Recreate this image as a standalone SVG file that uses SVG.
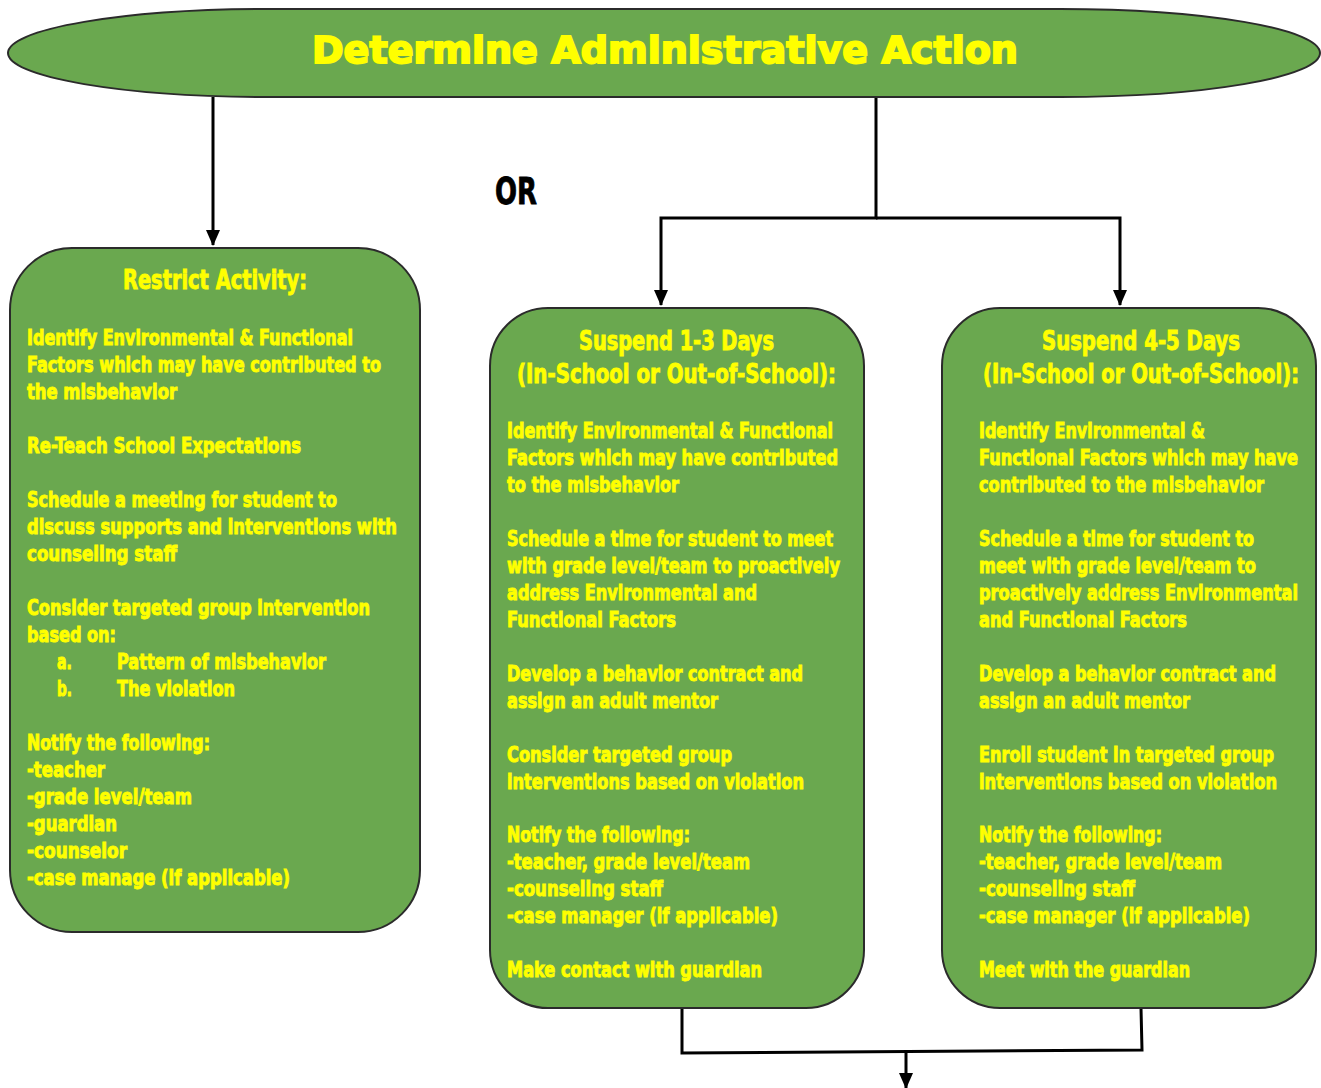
<svg xmlns="http://www.w3.org/2000/svg" width="1321" height="1088" viewBox="0 0 1321 1088">
<defs>
<marker id="ah" markerWidth="16" markerHeight="14" refX="15" refY="7" orient="auto" markerUnits="userSpaceOnUse"><path d="M0,0 L16,7 L0,14 Z" fill="#000"/></marker>
<style>
.box{fill:#6aa84f;stroke:#2b2b2b;stroke-width:2}
.t{font-family:"Liberation Sans Narrow","DejaVu Sans Condensed","DejaVu Sans",sans-serif;font-weight:bold;fill:#ffff00;stroke:#ffff00;stroke-width:0.9;font-size:21px}
.h{font-size:26px}
.ttl{font-family:"DejaVu Sans",sans-serif;font-weight:bold;fill:#ffff00;stroke:#ffff00;stroke-width:2;font-size:38px}
.or{font-family:"Liberation Sans Narrow","DejaVu Sans Condensed","DejaVu Sans",sans-serif;font-weight:bold;fill:#000;stroke:#000;stroke-width:0.8;font-size:38px}
.c{fill:none;stroke:#000;stroke-width:3}
</style>
</defs>
<g id="connectors">
<line class="c" x1="213" y1="97" x2="213" y2="245" marker-end="url(#ah)"/>
<polyline class="c" points="876,97 876,218 661,218 661,305" marker-end="url(#ah)"/>
<polyline class="c" points="876,218 1120,218 1120,305" marker-end="url(#ah)"/>
<polyline class="c" points="682,1008 682,1053 1142,1050 1141,1008"/>
<line class="c" x1="906" y1="1052" x2="906" y2="1088" marker-end="url(#ah)"/>
</g>
<g id="title">
<rect class="box" x="8" y="9" width="1312" height="88" rx="260" ry="44"/>
<text class="ttl" x="312" y="63" textLength="706" lengthAdjust="spacingAndGlyphs">Determine Administrative Action</text>
</g>
<g id="or-label">
<text class="or" x="495" y="204" textLength="42" lengthAdjust="spacingAndGlyphs">OR</text>
</g>
<g id="restrict">
<rect class="box" x="10" y="248" width="410" height="684" rx="62"/>
<text class="t h" x="123" y="289" textLength="184" lengthAdjust="spacingAndGlyphs">Restrict Activity:</text>
<text class="t" x="27" y="345" textLength="326" lengthAdjust="spacingAndGlyphs">Identify Environmental &amp; Functional</text>
<text class="t" x="27" y="372" textLength="354" lengthAdjust="spacingAndGlyphs">Factors which may have contributed to</text>
<text class="t" x="27" y="399" textLength="150" lengthAdjust="spacingAndGlyphs">the misbehavior</text>
<text class="t" x="27" y="453" textLength="274" lengthAdjust="spacingAndGlyphs">Re-Teach School Expectations</text>
<text class="t" x="27" y="507" textLength="310" lengthAdjust="spacingAndGlyphs">Schedule a meeting for student to</text>
<text class="t" x="27" y="534" textLength="370" lengthAdjust="spacingAndGlyphs">discuss supports and interventions with</text>
<text class="t" x="27" y="561" textLength="150" lengthAdjust="spacingAndGlyphs">counseling staff</text>
<text class="t" x="27" y="615" textLength="343" lengthAdjust="spacingAndGlyphs">Consider targeted group intervention</text>
<text class="t" x="27" y="642" textLength="89" lengthAdjust="spacingAndGlyphs">based on:</text>
<text class="t" x="57" y="669" textLength="15" lengthAdjust="spacingAndGlyphs">a.</text>
<text class="t" x="117" y="669" textLength="209" lengthAdjust="spacingAndGlyphs">Pattern of misbehavior</text>
<text class="t" x="57" y="696" textLength="15" lengthAdjust="spacingAndGlyphs">b.</text>
<text class="t" x="117" y="696" textLength="118" lengthAdjust="spacingAndGlyphs">The violation</text>
<text class="t" x="27" y="750" textLength="183" lengthAdjust="spacingAndGlyphs">Notify the following:</text>
<text class="t" x="27" y="777" textLength="78" lengthAdjust="spacingAndGlyphs">-teacher</text>
<text class="t" x="27" y="804" textLength="165" lengthAdjust="spacingAndGlyphs">-grade level/team</text>
<text class="t" x="27" y="831" textLength="90" lengthAdjust="spacingAndGlyphs">-guardian</text>
<text class="t" x="27" y="858" textLength="100" lengthAdjust="spacingAndGlyphs">-counselor</text>
<text class="t" x="27" y="885" textLength="263" lengthAdjust="spacingAndGlyphs">-case manage (if applicable)</text>
</g>
<g id="suspend13">
<rect class="box" x="490" y="308" width="374" height="700" rx="58"/>
<text class="t h" x="579" y="350" textLength="195" lengthAdjust="spacingAndGlyphs">Suspend 1-3 Days</text>
<text class="t h" x="517" y="383" textLength="319" lengthAdjust="spacingAndGlyphs">(In-School or Out-of-School):</text>
<text class="t" x="507" y="438" textLength="326" lengthAdjust="spacingAndGlyphs">Identify Environmental &amp; Functional</text>
<text class="t" x="507" y="465" textLength="331" lengthAdjust="spacingAndGlyphs">Factors which may have contributed</text>
<text class="t" x="507" y="492" textLength="172" lengthAdjust="spacingAndGlyphs">to the misbehavior</text>
<text class="t" x="507" y="546" textLength="326" lengthAdjust="spacingAndGlyphs">Schedule a time for student to meet</text>
<text class="t" x="507" y="573" textLength="333" lengthAdjust="spacingAndGlyphs">with grade level/team to proactively</text>
<text class="t" x="507" y="600" textLength="250" lengthAdjust="spacingAndGlyphs">address Environmental and</text>
<text class="t" x="507" y="627" textLength="169" lengthAdjust="spacingAndGlyphs">Functional Factors</text>
<text class="t" x="507" y="681" textLength="296" lengthAdjust="spacingAndGlyphs">Develop a behavior contract and</text>
<text class="t" x="507" y="708" textLength="211" lengthAdjust="spacingAndGlyphs">assign an adult mentor</text>
<text class="t" x="507" y="762" textLength="225" lengthAdjust="spacingAndGlyphs">Consider targeted group</text>
<text class="t" x="507" y="789" textLength="297" lengthAdjust="spacingAndGlyphs">interventions based on violation</text>
<text class="t" x="507" y="842" textLength="183" lengthAdjust="spacingAndGlyphs">Notify the following:</text>
<text class="t" x="507" y="869" textLength="243" lengthAdjust="spacingAndGlyphs">-teacher, grade level/team</text>
<text class="t" x="507" y="896" textLength="156" lengthAdjust="spacingAndGlyphs">-counseling staff</text>
<text class="t" x="507" y="923" textLength="271" lengthAdjust="spacingAndGlyphs">-case manager (if applicable)</text>
<text class="t" x="507" y="977" textLength="255" lengthAdjust="spacingAndGlyphs">Make contact with guardian</text>
</g>
<g id="suspend45">
<rect class="box" x="942" y="308" width="374" height="700" rx="58"/>
<text class="t h" x="1042" y="350" textLength="198" lengthAdjust="spacingAndGlyphs">Suspend 4-5 Days</text>
<text class="t h" x="983" y="383" textLength="316" lengthAdjust="spacingAndGlyphs">(In-School or Out-of-School):</text>
<text class="t" x="979" y="438" textLength="226" lengthAdjust="spacingAndGlyphs">Identify Environmental &amp;</text>
<text class="t" x="979" y="465" textLength="319" lengthAdjust="spacingAndGlyphs">Functional Factors which may have</text>
<text class="t" x="979" y="492" textLength="285" lengthAdjust="spacingAndGlyphs">contributed to the misbehavior</text>
<text class="t" x="979" y="546" textLength="275" lengthAdjust="spacingAndGlyphs">Schedule a time for student to</text>
<text class="t" x="979" y="573" textLength="277" lengthAdjust="spacingAndGlyphs">meet with grade level/team to</text>
<text class="t" x="979" y="600" textLength="319" lengthAdjust="spacingAndGlyphs">proactively address Environmental</text>
<text class="t" x="979" y="627" textLength="208" lengthAdjust="spacingAndGlyphs">and Functional Factors</text>
<text class="t" x="979" y="681" textLength="297" lengthAdjust="spacingAndGlyphs">Develop a behavior contract and</text>
<text class="t" x="979" y="708" textLength="211" lengthAdjust="spacingAndGlyphs">assign an adult mentor</text>
<text class="t" x="979" y="762" textLength="295" lengthAdjust="spacingAndGlyphs">Enroll student in  targeted group</text>
<text class="t" x="979" y="789" textLength="298" lengthAdjust="spacingAndGlyphs">interventions based on violation</text>
<text class="t" x="979" y="842" textLength="183" lengthAdjust="spacingAndGlyphs">Notify the following:</text>
<text class="t" x="979" y="869" textLength="243" lengthAdjust="spacingAndGlyphs">-teacher, grade level/team</text>
<text class="t" x="979" y="896" textLength="156" lengthAdjust="spacingAndGlyphs">-counseling staff</text>
<text class="t" x="979" y="923" textLength="271" lengthAdjust="spacingAndGlyphs">-case manager (if applicable)</text>
<text class="t" x="979" y="977" textLength="211" lengthAdjust="spacingAndGlyphs">Meet with the guardian</text>
</g>
</svg>
